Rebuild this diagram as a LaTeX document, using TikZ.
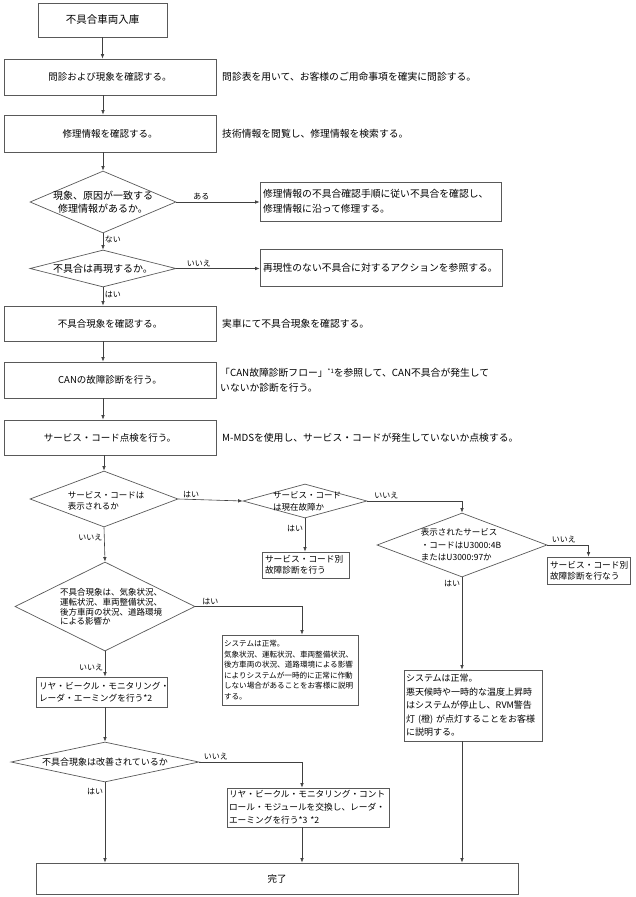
\documentclass[tikz,border=0pt]{standalone}
\usepackage{fontspec}
\setmainfont{Noto Sans CJK JP}
\usetikzlibrary{arrows.meta}
\usetikzlibrary{shapes.geometric}
\usetikzlibrary{calc}

\newcommand{\fsz}[2]{\fontsize{#1}{#2}\selectfont}

\begin{document}
\begin{tikzpicture}[x=1pt,y=-1pt,
    stepbox/.style={draw=black!65,line width=0.7pt,inner sep=0pt,align=center,font=\fsz{9.5}{12}},
    notebox/.style={draw=black!65,line width=0.7pt,inner xsep=3pt,inner ysep=0pt,align=left,font=\fsz{9.8}{15}},
    sidenote/.style={anchor=west,align=left,inner sep=0pt,font=\fsz{9.8}{15}},
    decision/.style={diamond,draw=black!65,line width=0.7pt,inner sep=0pt},
    qtext/.style={inner sep=0pt,font=\fsz{9.5}{12}},
    flow/.style={draw=black!75,line width=0.6pt,-{Latex[length=4.5pt,width=3.5pt]}},
    yesno/.style={inner sep=1.5pt,font=\fsz{8}{9}}]
  \useasboundingbox (0,0) rectangle (635,897);

  \begin{scope}
    \node[stepbox,minimum width=129pt,minimum height=34pt,font=\fsz{10.5}{12}] (start) at (102.5,20) {不具合車両入庫};
    \node[stepbox,minimum width=212pt,minimum height=36pt] (ask) at (110,77) {問診および現象を確認する。};
    \node[sidenote] (askn) at (222,77) {問診表を用いて、お客様のご用命事項を確実に問診する。};
    \node[stepbox,minimum width=212pt,minimum height=37pt] (info) at (110,133.5) {修理情報を確認する。};
    \node[sidenote] (infon) at (222,133.5) {技術情報を閲覧し、修理情報を検索する。};

    \node[decision,minimum width=146pt,minimum height=62pt] (q1) at (103,202) {};
    \node[qtext,align=center,font=\fsz{10}{13}] (q1t) at (q1) {現象、原因が一致する\\修理情報があるか。};
    \node[notebox,text width=235pt,minimum height=39pt] (fix) at (380.5,201.5) {修理情報の不具合確認手順に従い不具合を確認し、\\修理情報に沿って修理する。};
    \node[decision,minimum width=146pt,minimum height=37pt] (q2) at (103,268.5) {};
    \node[qtext,font=\fsz{10}{12}] (q2t) at (q2) {不具合は再現するか。};
    \node[notebox,text width=236pt,minimum height=37pt] (nr) at (381,267.5) {再現性のない不具合に対するアクションを参照する。};

    \node[stepbox,minimum width=212pt,minimum height=35pt] (chk) at (110,323.5) {不具合現象を確認する。};
    \node[sidenote] (chkn) at (222,323.5) {実車にて不具合現象を確認する。};
    \node[stepbox,minimum width=212pt,minimum height=36pt] (can) at (110,380) {CANの故障診断を行う。};
    \node[sidenote] (cann) at (220,380) {「CAN故障診断フロー」\raisebox{3pt}{\fsz{6}{6}*1}を参照して、CAN不具合が発生して\\いないか診断を行う。};
    \node[stepbox,minimum width=212pt,minimum height=35pt] (svc) at (110,437.5) {サービス・コード点検を行う。};
    \node[sidenote] (svcn) at (222,437.5) {M-MDSを使用し、サービス・コードが発生していないか点検する。};

    \node[decision,minimum width=148pt,minimum height=56pt] (q3) at (104,499) {};
    \node[qtext,align=left,font=\fsz{8.5}{10.5}] (q3t) at (106,501) {サービス・コードは\\表示されるか};
    \node[decision,minimum width=124pt,minimum height=34pt] (q4) at (305,501) {};
    \node[qtext,align=left,font=\fsz{8.5}{12}] (q4t) at (307,501) {サービス・コード\\は現在故障か};
    \node[notebox,text width=81pt,minimum height=26pt,font=\fsz{8.7}{11}] (svc1) at (305.5,565) {サービス・コード別\\故障診断を行う};
    \node[decision,minimum width=170pt,minimum height=64pt] (q5) at (462,545) {};
    \node[qtext,align=left,font=\fsz{8.5}{12.5}] (q5t) at (461,545) {表示されたサービス\\・コードはU3000:4B\\またはU3000:97か};
    \node[notebox,text width=77pt,minimum height=27pt,font=\fsz{8.7}{11}] (svc2) at (588.5,570.5) {サービス・コード別\\故障診断を行なう};
    \node[notebox,text width=134pt,inner xsep=2pt,minimum height=71pt,font=\fsz{9}{13.5}] (rvmok) at (473,705.5) {システムは正常。\\悪天候時や一時的な温度上昇時\\はシステムが停止し、RVM警告\\灯~(橙)~が点灯することをお客様\\に説明する。};

    \node[decision,minimum width=180pt,minimum height=89pt] (q6) at (105,606.5) {};
    \node[qtext,align=left,font=\fsz{8.5}{9.8}] (q6t) at (111,607) {不具合現象は、気象状況、\\運転状況、車両整備状況、\\後方車両の状況、道路環境\\による影響か};
    \node[notebox,text width=132pt,inner xsep=2pt,minimum height=70pt,font=\fsz{7.6}{10.5}] (sysok) at (290,670) {システムは正常。\\気象状況、運転状況、車両整備状況、\\後方車両の状況、道路環境による影響\\によりシステムが一時的に正常に作動\\しない場合があることをお客様に説明\\する。};
    \node[notebox,text width=125pt,minimum height=30pt,font=\fsz{8.7}{12}] (rvm) at (101.5,692) {リヤ・ビークル・モニタリング・\\レーダ・エーミングを行う*2};
    \node[decision,minimum width=188pt,minimum height=40pt] (q7) at (105,762) {};
    \node[qtext,font=\fsz{9}{10}] (q7t) at (q7) {不具合現象は改善されているか};
    \node[notebox,text width=158pt,inner xsep=2pt,minimum height=39pt,font=\fsz{8.7}{13}] (repl) at (308,807.5) {リヤ・ビークル・モニタリング・コント\\ロール・モジュールを交換し、レーダ・\\エーミングを行う*3 *2};
    \node[stepbox,minimum width=482pt,minimum height=31pt] (done) at (277,878.5) {完了};
  \end{scope}

  \begin{scope}
    \draw[flow] (start.south) -- (start.south |- ask.north);
    \draw[flow] (ask.south -| q1) -- (info.north -| q1);
    \draw[flow] (info.south -| q1) -- (q1.north);
    \draw[flow] (q1.east) -- node[yesno,above,pos=0.3] {ある} (q1.east -| fix.west);
    \draw[flow] (q1.south) -- node[yesno,right,pos=0.35] {ない} (q2.north);
    \draw[flow] (q2.east) -- node[yesno,above,pos=0.27] {いいえ} (q2.east -| nr.west);
    \draw[flow] (q2.south) -- node[yesno,right,pos=0.4] {はい} (q2.south |- chk.north);
    \draw[flow] (chk.south -| q2) -- (can.north -| q2);
    \draw[flow] (can.south -| q2) -- (svc.north -| q2);
    \draw[flow] (svc.south -| q3) -- (q3.north);
    \draw[flow] (q3.east) -- node[yesno,above,pos=0.2] {はい} (q4.west);
    \draw[flow] (q4.south) -- node[yesno,left,pos=0.3] {はい} (q4.south |- svc1.north);
    \draw[flow] (q4.east) -| node[yesno,above,pos=0.1] {いいえ} (q5.north);
    \draw[flow] (q5.east) -| node[yesno,above,pos=0.2] {いいえ} (svc2.north);
    \draw[flow] (q5.south) -- node[yesno,left,pos=0.07] {はい} (q5.south |- rvmok.north);
    \draw[flow] (rvmok.south -| q5) -- (q5 |- done.north);
    \draw[flow] (q3.south) -- node[yesno,left,pos=0.29] {いいえ} (q6.north);
    \draw[flow] (q6.east) -| node[yesno,above,pos=0.07] {はい} ([xshift=12pt]sysok.north);
    \draw[flow] (q6.south) -- node[yesno,left,pos=0.65] {いいえ} (q6.south |- rvm.north);
    \draw[flow] (rvm.south -| q7) -- (q7.north);
    \draw[flow] (q7.east) -| node[yesno,above,pos=0.08] {いいえ} ([xshift=-6pt]repl.north);
    \draw[flow] (q7.south) -- node[yesno,left,pos=0.12] {はい} (q7.south |- done.north);
    \draw[flow] ([xshift=-6pt]repl.south) -- ([xshift=-6pt]repl.south |- done.north);
  \end{scope}
\end{tikzpicture}
\end{document}
